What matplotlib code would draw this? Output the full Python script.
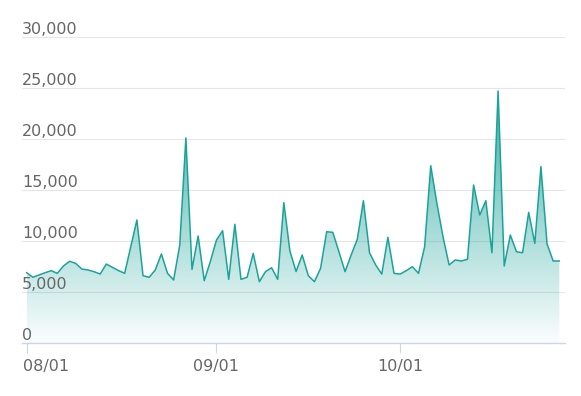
import numpy as np
import pandas as pd
import matplotlib
matplotlib.use('Agg')
import matplotlib.pyplot as plt
import matplotlib.dates as mdates
from matplotlib.colors import to_rgb

# daily values (starting 08/01)
values = [6890, 6440, 6670, 6890, 7090, 6830, 7550, 8010, 7810, 7250,
          7160, 6990, 6760, 7740, 7420, 7100, 6830, 9450, 12060, 6600,
          6440, 7160, 8730, 6830, 6180, 9610, 20100, 7220, 10490, 6110,
          8000, 10100, 11010, 6240, 11640, 6240, 6440, 8790, 6010, 6990,
          7380, 6240, 13760, 9000, 7000, 8630, 6600, 6010, 7320, 10910,
          10850, 8950, 6990, 8630, 10170, 13950, 8850, 7650, 6760, 10360,
          6830, 6760, 7090, 7480, 6830, 9440, 17380, 13700, 10420, 7650,
          8140, 8040, 8210, 15490, 12550, 13950, 8850, 24710, 7550, 10590,
          8950, 8850, 12810, 9770, 17290, 9710, 8040, 8040]
dates = pd.date_range('2024-08-01', periods=len(values), freq='D')
y_ticks = [0, 5000, 10000, 15000, 20000, 25000, 30000]

line_color = '#1ba39a'
text_color = '#666666'
axis_color = '#ccd6eb'

fig = plt.figure(figsize=(5.81, 3.96), dpi=100)
ax = fig.add_axes([22 / 581, 53 / 396, 543 / 581, 306 / 396])
x = mdates.date2num(dates)

# gradient fill under the line
poly = ax.fill_between(x, values, 0, facecolor='none', edgecolor='none')
grad = np.zeros((256, 1, 4))
grad[:, :, :3] = to_rgb(line_color)
grad[:, 0, 3] = np.linspace(0.85, 0.02, 256)
im = ax.imshow(grad, aspect='auto', origin='upper', zorder=1,
               extent=[x[0], x[-1], 0, max(values)])
im.set_clip_path(poly.get_paths()[0], transform=ax.transData)

ax.plot(x, values, color=line_color, lw=1.1, zorder=3)

ax.set_xlim(x[0] - 0.77, x[-1] + 0.93)
ax.set_ylim(0, 30000)

ax.set_yticks(y_ticks)
ax.tick_params(axis='y', length=0, labelleft=False)
ax.grid(axis='y', color='#e6e6e6', lw=0.8, zorder=0)
ax.set_axisbelow(True)
for v in y_ticks:
    ax.annotate(f'{v:,}', xy=(0, v), xycoords=('axes fraction', 'data'),
                xytext=(0, 2.2), textcoords='offset points',
                ha='left', va='baseline', fontsize=11.5, color=text_color)

month_starts = [d for d in dates if d.day == 1]
ax.set_xticks(mdates.date2num(month_starts))
ax.tick_params(axis='x', length=7.2, width=0.8, color=axis_color, labelbottom=False)
for i, d in enumerate(month_starts):
    ha = 'left' if i == 0 else 'center'
    dx = -2.9 if i == 0 else 0
    ax.annotate(d.strftime('%m/%d'), xy=(mdates.date2num(d), 0),
                xycoords=('data', 'axes fraction'),
                xytext=(dx, -11.5), textcoords='offset points',
                ha=ha, va='top', fontsize=11.5, color=text_color)

for s in ['top', 'right', 'left']:
    ax.spines[s].set_visible(False)
ax.spines['bottom'].set_color(axis_color)
ax.spines['bottom'].set_linewidth(1)

fig.savefig('out.png', dpi=100)
